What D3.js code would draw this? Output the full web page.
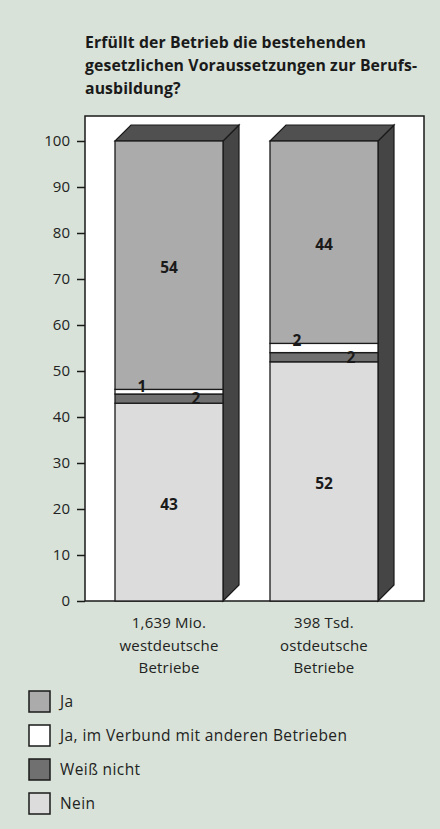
<!DOCTYPE html>
<html><head><meta charset="utf-8">
<script src="https://cdn.jsdelivr.net/npm/d3@7"></script>
<style>
html,body{margin:0;padding:0;background:#d8e2d8;}
svg{display:block;}
</style></head>
<body>
<svg id="chart" width="440" height="829"></svg>
<script>
const categories = [["1,639 Mio.", "westdeutsche", "Betriebe"], ["398 Tsd.", "ostdeutsche", "Betriebe"]];
const seriesNames = ["Nein", "Weiß nicht", "Ja, im Verbund mit anderen Betrieben", "Ja"];
const nein = [43, 52];
const weissNicht = [2, 2];
const verbund = [1, 2];
const ja = [54, 44];
const yTicks = [0, 10, 20, 30, 40, 50, 60, 70, 80, 90, 100];
const legendOrder = ["Ja", "Ja, im Verbund mit anderen Betrieben", "Weiß nicht", "Nein"];

const colors = {"Nein": "#dcdcdc", "Weiß nicht": "#707070", "Ja, im Verbund mit anderen Betrieben": "#ffffff", "Ja": "#ababab"};
const values = {"Nein": nein, "Weiß nicht": weissNicht, "Ja, im Verbund mit anderen Betrieben": verbund, "Ja": ja};

const svg = d3.select("#chart");
const font = "'Open Sans', 'Noto Sans', sans-serif";

// title
const title = ["Erfüllt der Betrieb die bestehenden", "gesetzlichen Voraussetzungen zur Berufs-", "ausbildung?"];
svg.append("g").selectAll("text").data(title).join("text")
  .attr("x", 85).attr("y", (d, i) => 48 + i * 23)
  .attr("font-family", font).attr("font-weight", "bold").attr("font-size", 15.8)
  .attr("letter-spacing", 0.1)
  .attr("fill", "#1a1a1a").text(d => d);

// frame
const frame = {l: 85, t: 116, r: 424, b: 601};
svg.append("rect").attr("x", frame.l).attr("y", frame.t)
  .attr("width", frame.r - frame.l).attr("height", frame.b - frame.t)
  .attr("fill", "#ffffff").attr("stroke", "#1a1a1a").attr("stroke-width", 1.5);

const y = d3.scaleLinear().domain([0, 100]).range([601, 141]);
const x = d3.scaleBand().domain(d3.range(categories.length)).range([115, 378]).paddingInner(0.3032).paddingOuter(0);

// axis
const axis = d3.axisLeft(y).tickValues(yTicks).tickSize(8).tickPadding(7);
const ag = svg.append("g").attr("transform", `translate(${frame.l},0)`).call(axis);
ag.select(".domain").remove();
ag.selectAll("line").attr("stroke", "#1a1a1a").attr("stroke-width", 1.5);
ag.selectAll("text").attr("font-family", font).attr("font-size", 15).attr("fill", "#222");

// stacked data
const stackData = categories.map((c, i) => {
  const o = {i};
  seriesNames.forEach(s => o[s] = values[s][i]);
  return o;
});
const stack = d3.stack().keys(seriesNames)(stackData);

const depth = 16;
const bars = svg.append("g");
categories.forEach((c, i) => {
  const x0 = x(i), bw = x.bandwidth();
  const top = y(100), bot = y(0);
  bars.append("path")
    .attr("d", `M${x0 + bw},${bot} L${x0 + bw + depth},${bot - depth} L${x0 + bw + depth},${top - depth} L${x0 + bw},${top} Z`)
    .attr("fill", "#454545").attr("stroke", "#1a1a1a").attr("stroke-width", 1.2);
  bars.append("path")
    .attr("d", `M${x0},${top} L${x0 + depth},${top - depth} L${x0 + bw + depth},${top - depth} L${x0 + bw},${top} Z`)
    .attr("fill", "#505050").attr("stroke", "#1a1a1a").attr("stroke-width", 1.2);
});

stack.forEach(layer => {
  bars.append("g").selectAll("rect").data(layer).join("rect")
    .attr("x", (d, i) => x(i)).attr("width", x.bandwidth())
    .attr("y", d => y(d[1])).attr("height", d => y(d[0]) - y(d[1]))
    .attr("fill", colors[layer.key]).attr("stroke", "#1a1a1a").attr("stroke-width", 1.3);
});

// value labels
const lab = svg.append("g").attr("font-family", font).attr("font-weight", "bold")
  .attr("font-size", 15.5).attr("fill", "#1a1a1a").attr("text-anchor", "middle");
stack.forEach(layer => {
  layer.forEach((d, i) => {
    const v = d[1] - d[0];
    const cx = x(i) + x.bandwidth() / 2;
    let px = cx, py = y((d[0] + d[1]) / 2) + 8;
    if (layer.key === "Ja, im Verbund mit anderen Betrieben") {
      px = x(i) + x.bandwidth() * 0.25; py = y(d[1]) + 3;
    } else if (layer.key === "Weiß nicht") {
      px = x(i) + x.bandwidth() * 0.75; py = y(d[0]) + 1;
    }
    lab.append("text").attr("x", px).attr("y", py).text(v);
  });
});

// category labels
categories.forEach((c, i) => {
  svg.append("g").selectAll("text").data(c).join("text")
    .attr("x", x(i) + x.bandwidth() / 2).attr("y", (d, k) => 628 + k * 22.5)
    .attr("text-anchor", "middle").attr("font-family", font).attr("font-size", 15)
    .attr("letter-spacing", 0.2)
    .attr("fill", "#222").text(d => d);
});

// legend
const lg = svg.append("g");
legendOrder.forEach((s, i) => {
  const yy = 691 + i * 34;
  lg.append("rect").attr("x", 29).attr("y", yy).attr("width", 21).attr("height", 21)
    .attr("fill", colors[s]).attr("stroke", "#1a1a1a").attr("stroke-width", 1.5);
  lg.append("text").attr("x", 60).attr("y", yy + 16).attr("font-family", font)
    .attr("font-size", 15.5).attr("letter-spacing", 0.4).attr("fill", "#222").text(s);
});
</script>
</body></html>
